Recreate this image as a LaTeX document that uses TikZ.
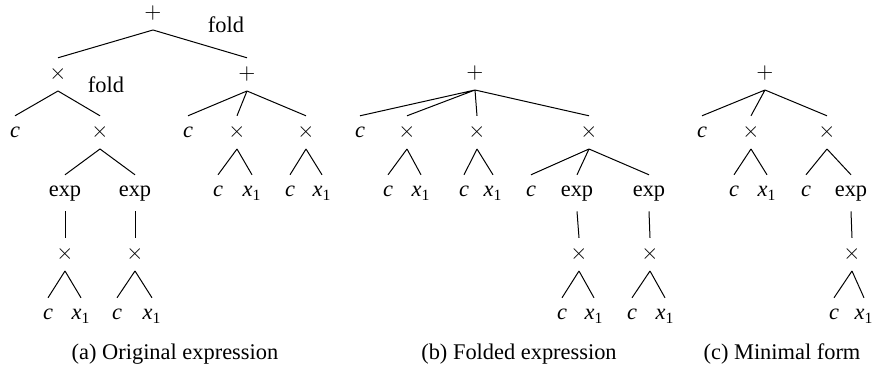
\documentclass[tikz,border=0pt]{standalone}
\usepackage{fontspec}
\setmainfont{Liberation Serif}

\newcommand{\cv}{\textit{c}}
\newcommand{\xv}{\textit{x}\textsubscript{1}}
\newcommand{\opT}{$\times$}
\newcommand{\opP}{$+$}

\begin{document}
\begin{tikzpicture}[x=0.5pt,y=-0.5pt,
  every node/.style={font=\fontsize{11.2pt}{13.5pt}\selectfont},
  sym/.style={anchor=base,inner sep=2.5pt,text height=8.4pt,text depth=2.8pt},
  fn/.style={sym,text depth=4.5pt},
  txt/.style={anchor=base,inner sep=0pt},
  br/.style={line width=0.5pt}]
\useasboundingbox (0,0) rectangle (874,368);

% (a) original expression
\node[sym] (o) at (153,19) {\opP};
\node[sym] (o1) at (58,80) {\opT};
\node[sym] (o2) at (247,80) {\opP};
\node[txt] (foldA) at (226,33) {fold};
\node[txt] (foldB) at (106,93) {fold};
\node[sym] (o11) at (15,138) {\cv};
\node[sym] (o12) at (100,138) {\opT};
\node[fn] (o121) at (65,197) {exp};
\node[fn] (o122) at (135,197) {exp};
\node[sym] (o1211) at (65,260) {\opT};
\node[sym] (o1221) at (135,260) {\opT};
\node[sym] (o12111) at (48,320) {\cv};
\node[sym] (o12112) at (81,320) {\xv};
\node[sym] (o12211) at (117,320) {\cv};
\node[sym] (o12212) at (152,320) {\xv};
\node[sym] (o21) at (188,138) {\cv};
\node[sym] (o22) at (237,138) {\opT};
\node[sym] (o23) at (306,138) {\opT};
\node[sym] (o221) at (218,197) {\cv};
\node[sym] (o222) at (252,197) {\xv};
\node[sym] (o231) at (290,197) {\cv};
\node[sym] (o232) at (322,197) {\xv};
\draw[br] (o.south) -- (o1.north) (o.south) -- (o2.north);
\draw[br] (o1.south) -- (o11.north) (o1.south) -- (o12.north);
\draw[br] (o12.south) -- (o121.north) (o12.south) -- (o122.north);
\draw[br] (o121.south) -- (o1211.north);
\draw[br] (o122.south) -- (o1221.north);
\draw[br] (o1211.south) -- (o12111.north) (o1211.south) -- (o12112.north);
\draw[br] (o1221.south) -- (o12211.north) (o1221.south) -- (o12212.north);
\draw[br] (o2.south) -- (o21.north) (o2.south) -- (o22.north) (o2.south) -- (o23.north);
\draw[br] (o22.south) -- (o221.north) (o22.south) -- (o222.north);
\draw[br] (o23.south) -- (o231.north) (o23.south) -- (o232.north);
\node[txt] (capA) at (175,360) {(a) Original expression};

% (b) folded expression
\node[sym] (f) at (475,79) {\opP};
\node[sym] (f1) at (360,138) {\cv};
\node[sym] (f2) at (407,138) {\opT};
\node[sym] (f3) at (477,138) {\opT};
\node[sym] (f4) at (589,138) {\opT};
\node[sym] (f21) at (388,197) {\cv};
\node[sym] (f22) at (421,197) {\xv};
\node[sym] (f31) at (464,197) {\cv};
\node[sym] (f32) at (493,197) {\xv};
\node[sym] (f41) at (531,197) {\cv};
\node[fn] (f42) at (577,197) {exp};
\node[fn] (f43) at (649,197) {exp};
\node[sym] (f421) at (579,260) {\opT};
\node[sym] (f431) at (650,260) {\opT};
\node[sym] (f4211) at (562,320) {\cv};
\node[sym] (f4212) at (594,320) {\xv};
\node[sym] (f4311) at (632,320) {\cv};
\node[sym] (f4312) at (665,320) {\xv};
\draw[br] (f.south) -- (f1.north) (f.south) -- (f2.north) (f.south) -- (f3.north) (f.south) -- (f4.north);
\draw[br] (f2.south) -- (f21.north) (f2.south) -- (f22.north);
\draw[br] (f3.south) -- (f31.north) (f3.south) -- (f32.north);
\draw[br] (f4.south) -- (f41.north) (f4.south) -- (f42.north) (f4.south) -- (f43.north);
\draw[br] (f42.south) -- (f421.north);
\draw[br] (f43.south) -- (f431.north);
\draw[br] (f421.south) -- (f4211.north) (f421.south) -- (f4212.north);
\draw[br] (f431.south) -- (f4311.north) (f431.south) -- (f4312.north);
\node[txt] (capB) at (519,360) {(b) Folded expression};

% (c) minimal form
\node[sym] (m) at (765,79) {\opP};
\node[sym] (m1) at (702,138) {\cv};
\node[sym] (m2) at (751,138) {\opT};
\node[sym] (m3) at (827,138) {\opT};
\node[sym] (m21) at (734,197) {\cv};
\node[sym] (m22) at (767,197) {\xv};
\node[sym] (m31) at (806,197) {\cv};
\node[fn] (m32) at (851,197) {exp};
\node[sym] (m321) at (852,260) {\opT};
\node[sym] (m3211) at (834,320) {\cv};
\node[sym] (m3212) at (864,320) {\xv};
\draw[br] (m.south) -- (m1.north) (m.south) -- (m2.north) (m.south) -- (m3.north);
\draw[br] (m2.south) -- (m21.north) (m2.south) -- (m22.north);
\draw[br] (m3.south) -- (m31.north) (m3.south) -- (m32.north);
\draw[br] (m32.south) -- (m321.north);
\draw[br] (m321.south) -- (m3211.north) (m321.south) -- (m3212.north);
\node[txt] (capC) at (782,360) {(c) Minimal form};

\end{tikzpicture}
\end{document}
